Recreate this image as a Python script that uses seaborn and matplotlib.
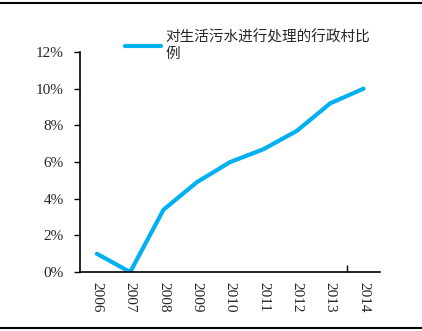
import matplotlib
matplotlib.use("Agg")
import matplotlib.pyplot as plt
import seaborn as sns
import pandas as pd
from matplotlib.lines import Line2D
from matplotlib.ticker import FuncFormatter, FixedLocator

years = ["2006", "2007", "2008", "2009", "2010", "2011", "2012", "2013", "2014"]
ratio = [0.010, 0.000, 0.034, 0.049, 0.060, 0.067, 0.077, 0.092, 0.100]
series_name = "对生活污水进行处理的行政村比\n例"

df = pd.DataFrame({"year": years, "ratio": ratio})

sns.set_style("white")
plt.rcParams['font.family'] = ['Liberation Serif', 'Noto Sans CJK SC', 'DejaVu Sans']

fig = plt.figure(figsize=(4.22, 3.31), dpi=100)
ax = fig.add_axes([0.19, 0.178, 0.711, 0.665])

x = list(range(len(years)))
sns.lineplot(x=x, y=df["ratio"], ax=ax, color="#00B0F0", linewidth=3, label=series_name)

ax.set_xlim(-0.5, 8.5)
ax.set_ylim(0, 0.12)
ax.set_yticks([0, 0.02, 0.04, 0.06, 0.08, 0.10, 0.12])
ax.yaxis.set_major_formatter(FuncFormatter(lambda v, p: f"{v*100:.0f}%"))
ax.set_xticks(x)
ax.set_xticklabels(years, rotation=270)
ax.xaxis.set_minor_locator(FixedLocator([7.5]))
ax.set_xlabel("")
ax.set_ylabel("")
for s in ["top", "right"]:
    ax.spines[s].set_visible(False)
for s in ["left", "bottom"]:
    ax.spines[s].set_color("black")
    ax.spines[s].set_linewidth(1.2)
ax.tick_params(axis="y", which="major", direction="out", length=4, width=1, color="black",
               labelsize=11, left=True, pad=8)
ax.tick_params(axis="x", which="major", length=0, labelsize=11, pad=7)
ax.tick_params(axis="x", which="minor", direction="in", length=5, width=1, color="black", bottom=True)
for t in ax.get_xticklabels() + ax.get_yticklabels():
    t.set_fontfamily(['Liberation Serif'])

leg = ax.legend(loc="upper left", bbox_to_anchor=(0.265, 0.948), bbox_transform=fig.transFigure,
                frameon=False, handlelength=2.5, handletextpad=0.3,
                prop={"family": ["Noto Sans CJK SC"], "size": 10.5})

fig.add_artist(Line2D([0.0, 1.0], [0.991, 0.991], color="black", linewidth=1.5, transform=fig.transFigure))
fig.add_artist(Line2D([0.0, 1.0], [0.009, 0.009], color="black", linewidth=1.5, transform=fig.transFigure))

fig.savefig("out.png", dpi=100)
